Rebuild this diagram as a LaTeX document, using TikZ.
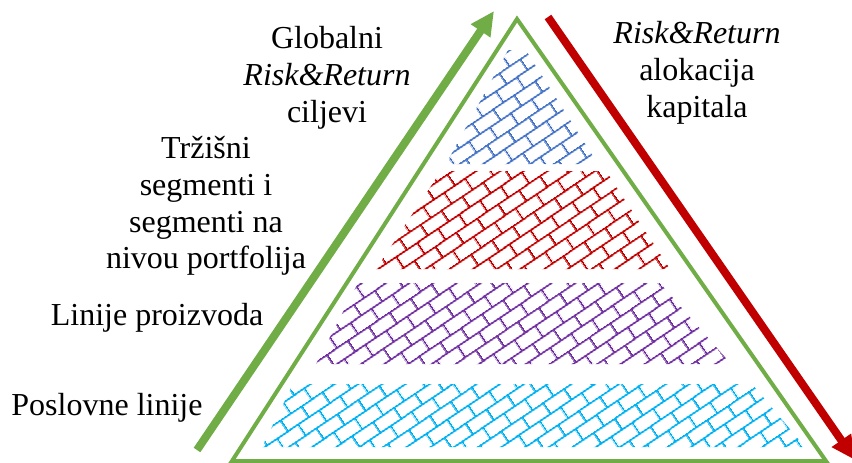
\documentclass[tikz,border=0pt]{standalone}
\usepackage{fontspec}
\setmainfont{Liberation Serif}
\usetikzlibrary{patterns.meta,arrows.meta}

\definecolor{leafgreen}{HTML}{70AD47}
\definecolor{darkred}{HTML}{C00000}
\definecolor{brickblue}{HTML}{4472C4}
\definecolor{brickred}{HTML}{C00000}
\definecolor{brickpurple}{HTML}{7030A0}
\definecolor{brickcyan}{HTML}{00B0F0}

% diagonal brick hatch: 25x13.5 bricks, rows tilted by 34 degrees
\tikzdeclarepattern{
  name=diagbrick,
  type=uncolored,
  bounding box={(0pt,0pt) and (25pt,27pt)},
  tile size={(25pt,27pt)},
  tile transformation={rotate=34},
  code={
    \draw[line width=2pt]
      (-1pt,6.75pt) -- (26pt,6.75pt)
      (-1pt,20.25pt) -- (26pt,20.25pt)
      (6.25pt,6.75pt) -- (6.25pt,20.25pt)
      (18.75pt,20.25pt) -- (18.75pt,28pt)
      (18.75pt,-1pt) -- (18.75pt,6.75pt);
  }
}

\tikzset{
  lbl/.style={font=\fontsize{32}{36.8}\selectfont, align=center, inner sep=0pt},
  band/.style={pattern=diagbrick, pattern color=#1},
  frame/.style={draw=leafgreen, line width=4pt, line join=miter},
  bigarrow/.style={draw=#1, line width=8pt, -{Triangle[width=22pt,length=24pt]}}
}

\begin{document}
\begin{tikzpicture}[x=1pt,y=-1pt]
  \useasboundingbox (0,0) rectangle (852,463);

  % hatched layers of the pyramid
  \fill[band=brickblue]   (508,50) -- (527,52) -- (598,164) -- (446,164) -- cycle;
  \fill[band=brickred]    (441,171) -- (606,171) -- (670,269) -- (376,269) -- cycle;
  \fill[band=brickpurple] (358,283) -- (660,283) -- (731,364) -- (316,364) -- cycle;
  \fill[band=brickcyan]   (293,384) -- (752,384) -- (805,447) -- (262,447) -- cycle;

  % pyramid outline
  \coordinate (bl) at (232,461);
  \coordinate (br) at (826,461);
  \coordinate (apex) at (517,19);
  \draw[frame] (bl) -- (br) -- (apex) -- cycle;

  % side arrows
  \coordinate (upfrom) at (197,450);
  \coordinate (upto) at (494,11);
  \draw[bigarrow=leafgreen] (upfrom) -- (upto);
  \coordinate (downfrom) at (548,17);
  \coordinate (downto) at (855,460);
  \draw[bigarrow=darkred] (downfrom) -- (downto);

  % labels
  \node[lbl, anchor=north] (goals) at (327,26) {Globalni\\\textit{Risk\&Return}\\ciljevi};
  \node[lbl, anchor=north] (segments) at (206,136) {Tržišni\\segmenti i\\segmenti na\\nivou portfolija};
  \node[lbl, anchor=base] (products) at (157,325) {Linije proizvoda};
  \node[lbl, anchor=base] (business) at (107,415) {Poslovne linije};
  \node[lbl, anchor=north] (capital) at (697,21) {\textit{Risk\&Return}\\alokacija\\kapitala};
\end{tikzpicture}
\end{document}
